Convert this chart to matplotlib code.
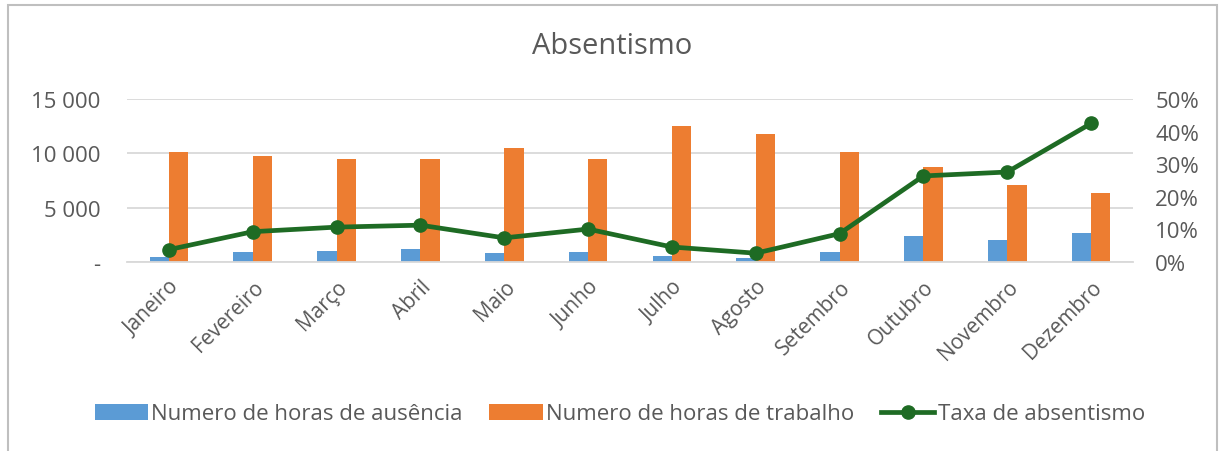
import numpy as np
import matplotlib.pyplot as plt
from matplotlib.ticker import FuncFormatter, PercentFormatter
from matplotlib.patches import Rectangle

meses = ["Janeiro", "Fevereiro", "Março", "Abril", "Maio", "Junho", "Julho",
         "Agosto", "Setembro", "Outubro", "Novembro", "Dezembro"]
horas_ausencia = [430, 920, 1010, 1170, 800, 920, 550, 340, 920, 2370, 2000, 2700]
horas_trabalho = [10080, 9730, 9480, 9480, 10460, 9480, 12490, 11780, 10080, 8770, 7120, 6380]
taxa_absentismo = [0.038, 0.093, 0.107, 0.113, 0.074, 0.101, 0.046, 0.027, 0.087, 0.264, 0.276, 0.425]

plt.rcParams['font.family'] = ['Open Sans', 'DejaVu Sans']
cinza = "#595959"

fig = plt.figure(figsize=(12.2, 4.52), dpi=100)
ax1 = fig.add_axes([127/1220, 1 - 263/452, (1133-127)/1220, 163/452])
ax2 = ax1.twinx()

x = np.arange(len(meses))
w = 0.23
b1 = ax1.bar(x - w/2, horas_ausencia, w, color="#5B9BD5", zorder=2,
             label="Numero de horas de ausência")
b2 = ax1.bar(x + w/2, horas_trabalho, w, color="#ED7D31", zorder=2,
             label="Numero de horas de trabalho")
l1, = ax2.plot(x, taxa_absentismo, color="#1E6B24", lw=3.4, marker="o", ms=9.5,
               label="Taxa de absentismo", zorder=3)

ax1.set_xlim(-0.5, len(meses) - 0.5)
ax1.set_ylim(0, 15000)
ax1.set_yticks([0, 5000, 10000, 15000])
ax1.yaxis.set_major_formatter(FuncFormatter(
    lambda v, p: "-" if v == 0 else f"{int(v):,}".replace(",", " ")))
ax2.set_ylim(0, 0.5)
ax2.set_yticks(np.arange(0, 0.51, 0.1))
ax2.yaxis.set_major_formatter(PercentFormatter(1.0, decimals=0))

ax1.grid(axis="y", color="#D9D9D9", lw=1.3, zorder=0)
ax1.set_axisbelow(True)
for a in (ax1, ax2):
    for s in a.spines.values():
        s.set_visible(False)
    a.tick_params(length=0, colors=cinza, labelsize=16)
ax1.spines["bottom"].set_visible(True)
ax1.spines["bottom"].set_color("#D9D9D9")
ax1.spines["bottom"].set_linewidth(1.3)
ax1.tick_params(axis="y", pad=19)
ax2.tick_params(axis="y", pad=16)

ax1.set_xticks(x)
ax1.set_xticklabels(meses, rotation=45, ha="right", rotation_mode="anchor")
ax1.tick_params(axis="x", pad=10, labelsize=15)

fig.text(0.502, 1 - 47/452, "Absentismo", ha="center", va="center",
         fontsize=21, color=cinza)

fig.legend(handles=[b1, b2, l1], loc="center", bbox_to_anchor=(0.508, 1 - 415/452),
           ncol=3, frameon=False, fontsize=16, labelcolor=cinza,
           handlelength=2.4, handletextpad=0.15, columnspacing=1.2)

fig.patches.append(Rectangle((8/1220, -0.05), (1217-8)/1220, 1.05 - 6/452,
                             transform=fig.transFigure, fill=False,
                             edgecolor="#BFBFBF", lw=1.5))

fig.savefig("out.png", dpi=100)
